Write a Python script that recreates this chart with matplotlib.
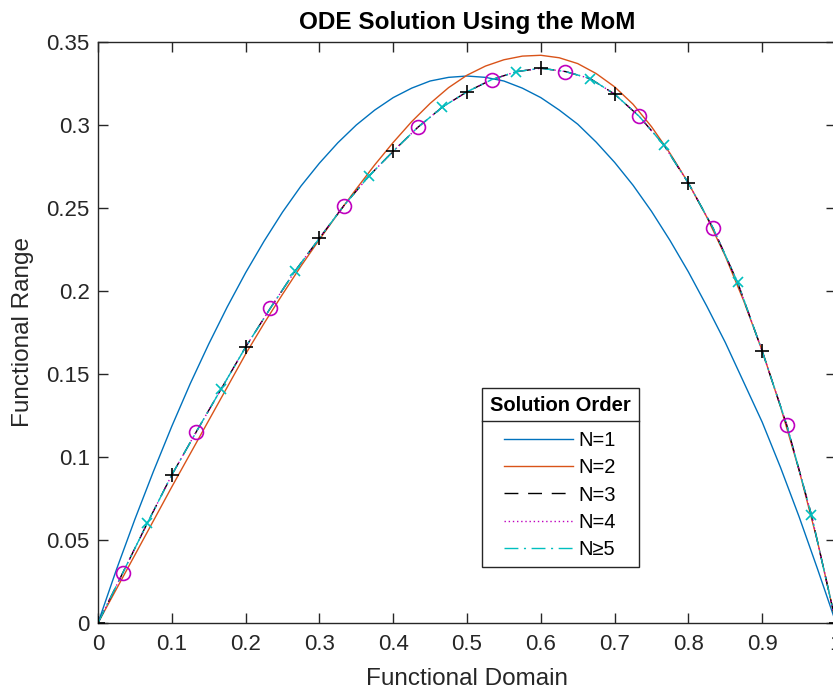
import numpy as np
import matplotlib
matplotlib.use("Agg")
import matplotlib.pyplot as plt
from matplotlib.lines import Line2D

plt.rcParams['font.family'] = ['Liberation Sans', 'DejaVu Sans']

# sample grids (41 points for N=1,2 ; 31 points for the higher orders)
x_low = np.linspace(0, 1, 41)
x_high = np.linspace(0, 1, 31)

# values
y_n1 = [0, 0.0322, 0.0625, 0.0912, 0.1185, 0.1442, 0.168, 0.1903, 0.211, 0.230,
        0.2475, 0.2632, 0.277, 0.2893, 0.300, 0.3090, 0.3165, 0.3222, 0.3265, 0.3287,
        0.3295, 0.3287, 0.3265, 0.3222, 0.3165, 0.3090, 0.3005, 0.2897, 0.2775, 0.2637,
        0.248, 0.2305, 0.2115, 0.1908, 0.169, 0.1450, 0.121, 0.0935, 0.064, 0.0325, 0]
y_n2 = [0, 0.0205, 0.041, 0.0615, 0.082, 0.102, 0.122, 0.142, 0.162, 0.1805,
        0.198, 0.215, 0.231, 0.2465, 0.2615, 0.2760, 0.2895, 0.302, 0.313, 0.3225,
        0.330, 0.3355, 0.3393, 0.3415, 0.342, 0.3405, 0.337, 0.331, 0.323, 0.3125,
        0.299, 0.283, 0.265, 0.2445, 0.221, 0.194, 0.164, 0.130, 0.092, 0.049, 0]
# N=3, N=4 and N>=5 lie on top of each other
y_high = [0, 0.0300, 0.0600, 0.0892, 0.1153, 0.1408, 0.1662, 0.1895, 0.2118, 0.2318,
          0.2515, 0.2690, 0.2842, 0.2986, 0.3108, 0.3200, 0.3273, 0.3321, 0.3342, 0.3322,
          0.3280, 0.3186, 0.3052, 0.2880, 0.2650, 0.2380, 0.2052, 0.1638, 0.1192, 0.0652, 0]
y_n3 = y_high
y_n4 = y_high
y_n5 = y_high

labels = ['N=1', 'N=2', 'N=3', 'N=4', 'N\u22655']
xticks = np.arange(0, 1.01, 0.1)
yticks = np.arange(0, 0.351, 0.05)

axcol = '#262626'
fig = plt.figure(figsize=(8.33, 6.96), dpi=100)
ax = fig.add_axes([98 / 833, 1 - 623 / 696, 738 / 833, 581 / 696])

ax.plot(x_low, y_n1, color='#0072BD', lw=1.0, label=labels[0])
ax.plot(x_low, y_n2, color='#D95319', lw=1.0, label=labels[1])
ax.plot(x_high, y_n3, color='k', lw=1.0, ls=(0, (10, 7)), label=labels[2])
ax.plot(x_high, y_n4, color='m', lw=1.0, ls=(0, (1, 2)), label=labels[3])
ax.plot(x_high, y_n5, color='c', lw=1.0, ls=(0, (10, 4, 1.5, 4)), label=labels[4])

xh = np.asarray(x_high)
yh3, yh4, yh5 = np.asarray(y_n3), np.asarray(y_n4), np.asarray(y_n5)
ax.plot(xh[0::3], yh3[0::3], 'k+', ms=10, mew=1.2, zorder=5)
ax.plot(xh[1::3], yh4[1::3], 'o', color='m', mfc='none', ms=10, mew=1.2, zorder=5)
ax.plot(xh[2::3], yh5[2::3], 'x', color='c', ms=6.5, mew=1.2, zorder=5)

ax.set_xlim(0, 1)
ax.set_ylim(0, 0.35)
ax.set_xticks(xticks)
ax.set_yticks(yticks)
ax.set_xticklabels(['0', '0.1', '0.2', '0.3', '0.4', '0.5', '0.6', '0.7', '0.8', '0.9', '1'])
ax.set_yticklabels(['0', '0.05', '0.1', '0.15', '0.2', '0.25', '0.3', '0.35'])
ax.tick_params(direction='in', length=7, width=1.0, colors=axcol, labelsize=16,
               top=True, right=True)
ax.tick_params(axis='x', pad=8)
ax.tick_params(axis='y', pad=6)
for s in ax.spines.values():
    s.set_color(axcol)
    s.set_linewidth(1.0)

ax.set_title('ODE Solution Using the MoM', fontsize=17.5, fontweight='bold', pad=9)
ax.set_xlabel('Functional Domain', fontsize=17.5, color=axcol, labelpad=9)
ax.set_ylabel('Functional Range', fontsize=17.5, color=axcol, labelpad=9)

leg = ax.legend(loc='upper left', bbox_to_anchor=(0.52, 0.405), borderaxespad=0,
                fontsize=14.5, title='Solution Order', fancybox=False, framealpha=1,
                edgecolor=axcol, handlelength=3.4, handletextpad=0.3, labelspacing=0.4,
                borderpad=0.4)
leg.get_title().set_fontweight('bold')
leg.get_title().set_fontsize(14.5)
leg.get_frame().set_linewidth(1.0)
leg._legend_box.sep = 12

# MATLAB style separator under the legend title
fig.canvas.draw()
r = fig.canvas.get_renderer()
fb = leg.get_frame().get_window_extent(r)
tb = leg.get_title().get_window_extent(r)
W, H = fig.bbox.width, fig.bbox.height
yl = (tb.y0 - 6) / H
fig.add_artist(Line2D([fb.x0 / W, fb.x1 / W], [yl, yl], color=axcol, lw=1.0))

fig.savefig('out.png', dpi=100)
